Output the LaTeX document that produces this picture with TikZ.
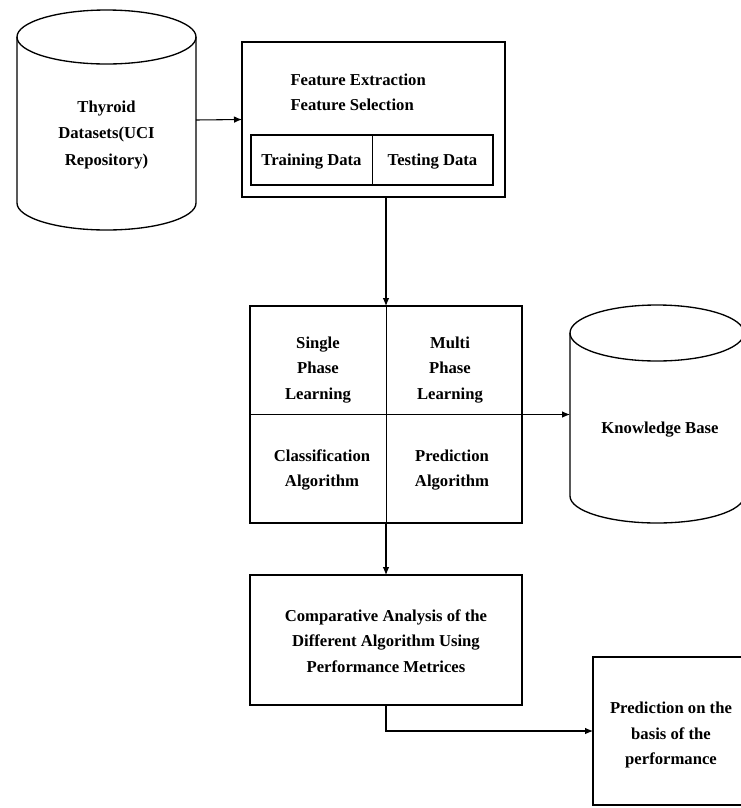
\documentclass[tikz,border=0pt]{standalone}
\usepackage{fontspec}
\setmainfont{Liberation Serif}
\usetikzlibrary{arrows.meta}

\tikzset{every picture/.style={line width=0.75pt}}
\tikzset{
  lbl/.style={font=\fontsize{12.5}{19}\selectfont\bfseries, align=center, inner sep=0.75pt},
  box/.style={draw, line width=1pt, inner sep=0pt, outer sep=0pt},
  canbody/.style={inner sep=0pt, outer sep=0pt},
  arr/.style={line width=0.8pt, -{Latex[length=6pt,width=5pt]}}
}

\begin{document}
\begin{tikzpicture}[x=0.75pt,y=0.75pt,yscale=-1,xscale=1]
\useasboundingbox (0,0) rectangle (741,808);

%Shape: Can (Thyroid datasets)
\node[canbody, minimum width=134.25pt, minimum height=124.5pt] (thyroid) at (106.5,120) {};
\draw[line width=1pt] (thyroid.north) ellipse [x radius=89.5, y radius=27];
\draw[line width=1pt] (thyroid.north west) -- (thyroid.south west) arc [start angle=180, end angle=0, x radius=89.5, y radius=27] -- (thyroid.north east);
% Text Node
\node[lbl, font=\fontsize{12.5}{20}\selectfont\bfseries] (thyroidtxt) at (106.5,135) {Thyroid\\Datasets(UCI\\Repository)};

%Shape: Rectangle (features)
\node[box, minimum width=197.25pt, minimum height=116.25pt] (feature) at (373.5,119.5) {};
% Text Node
\node[lbl, align=left, anchor=west] (featuretxt) at (289,92) {Feature Extraction\\Feature Selection};
%Shape: Rectangle (train / test split)
\node[box, minimum width=181.5pt, minimum height=37.5pt] (split) at (372,160) {};
\draw (split.north) -- (split.south);
% Text Node
\node[lbl] (train) at (311.5,162) {Training Data};
% Text Node
\node[lbl] (test) at (432.5,162) {Testing Data};

%Shape: Rectangle (learning methods)
\node[box, minimum width=204pt, minimum height=162.75pt] (methods) at (386,414.5) {};
\draw (methods.north) -- (methods.south);
\draw (methods.west) -- (methods.east);
% Text Node
\node[lbl] (single) at (318,370) {Single\\Phase\\Learning};
% Text Node
\node[lbl] (multi) at (450,370) {Multi\\Phase\\Learning};
% Text Node
\node[lbl] (classif) at (322,470) {Classification\\Algorithm};
% Text Node
\node[lbl] (predalg) at (452,470) {Prediction\\Algorithm};

%Shape: Can (knowledge base)
\node[canbody, minimum width=130.5pt, minimum height=122.25pt] (kb) at (657,414.5) {};
\draw[line width=1pt] (kb.north) ellipse [x radius=87, y radius=28];
\draw[line width=1pt] (kb.north west) -- (kb.south west) arc [start angle=180, end angle=0, x radius=87, y radius=27] -- (kb.north east);
% Text Node
\node[lbl] (kbtxt) at (660,430) {Knowledge Base};

%Shape: Rectangle (comparison)
\node[box, minimum width=204pt, minimum height=97.5pt] (compare) at (386,640) {};
% Text Node
\node[lbl] (comparetxt) at (386,641) {Comparative Analysis of the\\Different Algorithm Using\\Performance Metrices};

%Shape: Rectangle (prediction)
\node[box, minimum width=114pt, minimum height=111pt] (predict) at (669,731) {};
% Text Node
\node[lbl] (predtxt) at (671,735) {Prediction on the\\basis of the\\performance};

%Straight Lines
\draw[arr] (thyroid.east) -- (feature.west);
\draw[arr] (methods.north |- feature.south) -- (methods.north);
\draw[arr] (methods.east) -- (kb.west);
\draw[arr] (methods.south) -- (compare.north);
\draw[arr] (compare.south) |- (predict.west);

\end{tikzpicture}
\end{document}
